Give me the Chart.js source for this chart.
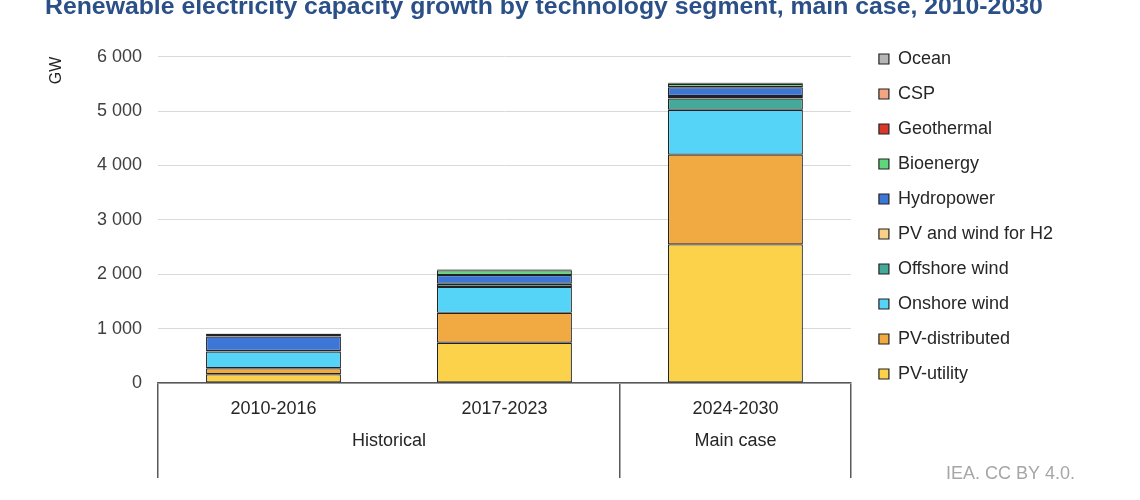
<!DOCTYPE html>
<html>
<head>
<meta charset="utf-8">
<script src="https://cdn.jsdelivr.net/npm/chart.js@4.4.1/dist/chart.umd.min.js"></script>
<style>
  html, body { margin: 0; padding: 0; background: #ffffff; }
  #wrap { position: relative; width: 1140px; height: 500px; overflow: hidden; }
</style>
</head>
<body>
<div id="wrap"><canvas id="chart" width="1140" height="500"></canvas></div>
<script>
// ---- Data (GW) ----
const periods = ["2010-2016", "2017-2023", "2024-2030"];
const groupLabels = ["Historical", "Main case"];
const groupCentres = [0.5, 2];          // category-index positions of the group labels
const groupEdges = [0, 2];              // first category index of each group

const pvUtility      = [160, 740, 2550];
const pvDistributed  = [110, 550, 1650];
const onshoreWind    = [310, 477, 826];
const offshoreWind   = [10, 55, 207];
const pvWindH2       = [0, 3, 45];
const hydropower     = [265, 160, 160];
const bioenergy      = [45, 90, 60];
const geothermal     = [5, 10, 15];
const csp            = [4, 5, 10];
const ocean          = [0, 0, 2];

const yTicks = [0, 1000, 2000, 3000, 4000, 5000, 6000];

const titleText = "Renewable electricity capacity growth by technology segment, main case, 2010-2030";
const footerText = "IEA. CC BY 4.0.";
const yTitle = "GW";

const FONT = "'Liberation Sans', Arial, Helvetica, sans-serif";

const series = [
  { label: "PV-utility",          data: pvUtility,     color: "#FBD24A" },
  { label: "PV-distributed",      data: pvDistributed, color: "#F1A942" },
  { label: "Onshore wind",        data: onshoreWind,   color: "#56D4F8" },
  { label: "Offshore wind",       data: offshoreWind,  color: "#43A999" },
  { label: "PV and wind for H2",  data: pvWindH2,      color: "#F8D08A" },
  { label: "Hydropower",          data: hydropower,    color: "#3C77D6" },
  { label: "Bioenergy",           data: bioenergy,     color: "#5DD67C" },
  { label: "Geothermal",          data: geothermal,    color: "#D9362C" },
  { label: "CSP",                 data: csp,           color: "#F3A583" },
  { label: "Ocean",               data: ocean,         color: "#B5B5B5" }
];

const datasets = series.map(s => ({
  label: s.label,
  data: s.data,
  backgroundColor: s.color,
  borderColor: "#222222",
  borderWidth: 1.2,
  borderSkipped: false,
  barPercentage: 0.584,
  categoryPercentage: 1.0,
  xAxisID: "x",
  yAxisID: "y"
}));

const fmt = v => String(v).replace(/\B(?=(\d{3})+(?!\d))/g, " ");

const footerPlugin = {
  id: "footerText",
  afterDraw(chart) {
    const ctx = chart.ctx;
    ctx.save();
    ctx.font = "18px " + FONT;
    ctx.fillStyle = "#A6A6A6";
    ctx.textAlign = "right";
    ctx.textBaseline = "middle";
    ctx.fillText(footerText, chart.width - 65, 474);
    ctx.restore();
  }
};

new Chart(document.getElementById("chart"), {
  type: "bar",
  data: { labels: periods, datasets },
  plugins: [footerPlugin],
  options: {
    responsive: false,
    animation: false,
    devicePixelRatio: 1,
    layout: { padding: { left: 45, right: 77, top: 0, bottom: 34 } },
    plugins: {
      tooltip: { enabled: false },
      title: {
        display: true,
        text: titleText,
        align: "start",
        color: "#2B5087",
        font: { family: FONT, size: 24.8, weight: "bold" },
        padding: { top: -8, bottom: 35 }
      },
      legend: {
        display: true,
        position: "right",
        align: "start",
        fullSize: true,
        reverse: true,
        title: { display: true, text: "", font: { size: 1 }, padding: { top: 0, bottom: 31.8 } },
        labels: {
          boxWidth: 10,
          boxHeight: 10,
          padding: 17,
          color: "#262626",
          font: { family: FONT, size: 18 }
        }
      }
    },
    scales: {
      x: {
        type: "category",
        stacked: true,
        position: "bottom",
        offset: true,
        grid: {
          display: true,
          offset: true,
          drawOnChartArea: false,
          drawTicks: true,
          tickLength: 95,
          lineWidth: 1.5,
          color: ctx => (ctx.index !== undefined && ctx.index !== 0 && !groupEdges.includes(ctx.index)) ? "rgba(0,0,0,0)" : "#595959"
        },
        border: { display: true, color: "#595959", width: 1.5 },
        ticks: {
          padding: -79.8,
          color: "#262626",
          maxRotation: 0,
          autoSkip: false,
          font: { family: FONT, size: 18 }
        },
        afterFit: s => { s.height = 33; }
      },
      x2: {
        type: "linear",
        axis: "x",
        position: "bottom",
        min: -0.5,
        max: 2.5,
        offset: false,
        bounds: "data",
        grid: { display: false, offset: false, drawTicks: false, drawOnChartArea: false },
        border: { display: false },
        afterBuildTicks: s => { s.ticks = groupCentres.map(v => ({ value: v })); },
        ticks: {
          padding: 14.2,
          color: "#262626",
          maxRotation: 0,
          autoSkip: false,
          font: { family: FONT, size: 18 },
          callback: (v, i) => groupLabels[i]
        },
        afterFit: s => { s.height = 50; }
      },
      y: {
        type: "linear",
        stacked: true,
        position: "left",
        min: 0,
        max: 6000,
        afterBuildTicks: s => { s.ticks = yTicks.map(v => ({ value: v })); },
        grid: { color: "#D9D9D9", lineWidth: 1, drawTicks: false },
        border: { display: false },
        ticks: {
          padding: 16,
          color: "#404040",
          font: { family: FONT, size: 18 },
          callback: v => fmt(v)
        },
        title: {
          display: true,
          text: yTitle,
          align: "end",
          color: "#262626",
          font: { family: FONT, size: 16 },
          padding: { top: 2.2, bottom: 10 }
        },
        afterFit: s => { s.width = 113; }
      },
      y2: {
        type: "linear",
        position: "right",
        display: false,
        afterFit: s => { s.width = 11; }
      }
    }
  }
});
</script>
</body>
</html>
